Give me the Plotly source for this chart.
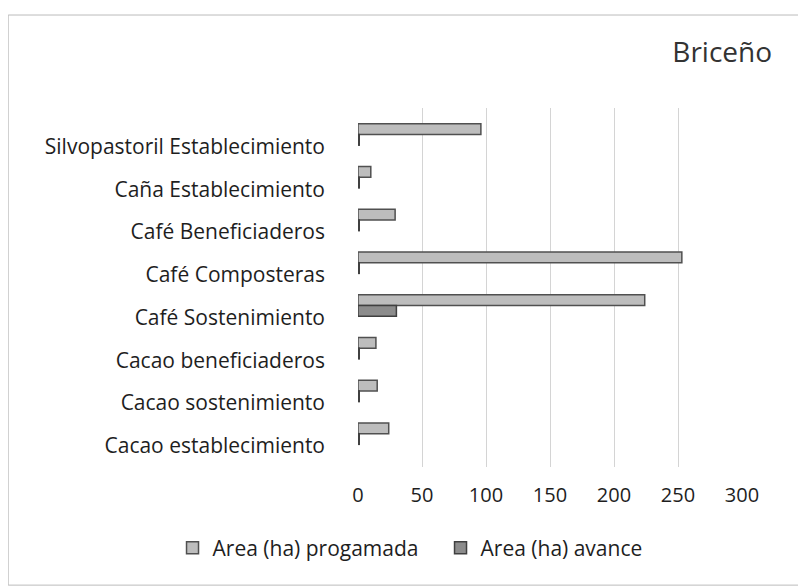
import plotly.graph_objects as go

categories = [
    'Silvopastoril Establecimiento',
    'Caña Establecimiento',
    'Café Beneficiaderos',
    'Café Composteras',
    'Café Sostenimiento',
    'Cacao beneficiaderos',
    'Cacao sostenimiento',
    'Cacao establecimiento',
]
area_programada = [96, 10, 29, 253, 224, 14, 15, 24]
area_avance = [1, 1, 1, 1, 30, 1, 1, 1]
x_ticks = [0, 50, 100, 150, 200, 250, 300]

FONT = 'Open Sans'

fig = go.Figure()

# bars sit a little above their labels, like the 3-D Excel original
fig.add_trace(go.Bar(
    y=categories,
    x=area_programada,
    name='Area (ha) progamada',
    orientation='h',
    width=0.25,
    offset=-0.53,
    marker=dict(color='#bdbdbd', line=dict(color='#505050', width=1.5)),
))
fig.add_trace(go.Bar(
    y=categories,
    x=area_avance,
    name='Area (ha) avance',
    orientation='h',
    width=0.25,
    offset=-0.28,
    marker=dict(color='#8c8c8c', line=dict(color='#404040', width=1.5)),
))

fig.update_layout(
    width=806,
    height=588,
    margin=dict(l=350, r=72, t=100, b=129),
    paper_bgcolor='white',
    plot_bgcolor='white',
    font=dict(family=FONT, color='#1e1e1e'),
    title=dict(
        text='Briceño',
        x=0.948, xanchor='right',
        y=0.925, yanchor='middle',
        font=dict(family=FONT, size=28, color='#333333'),
    ),
    legend=dict(
        orientation='h',
        x=-0.483, xanchor='left',
        y=-0.2256, yanchor='middle',
        font=dict(family=FONT, size=21, color='#1e1e1e'),
        itemwidth=30,
        entrywidth=223,
        entrywidthmode='pixels',
        traceorder='normal',
    ),
    xaxis=dict(
        range=[0, 300],
        tickvals=x_ticks,
        showgrid=True,
        gridcolor='#d4d4d4',
        gridwidth=1,
        zeroline=False,
        showline=False,
        tickfont=dict(family=FONT, size=20, color='#1e1e1e'),
        ticklabelstandoff=14,
    ),
    yaxis=dict(
        range=[7.5, -0.9],
        showgrid=False,
        showline=False,
        tickfont=dict(family=FONT, size=21, color='#1e1e1e'),
        ticklabelstandoff=32,
    ),
    shapes=[dict(
        type='rect', xref='paper', yref='paper',
        x0=-0.911, x1=1.151, y0=-0.329, y1=1.259,
        line=dict(color='#bbbbbb', width=1),
    )],
)

fig.write_html('out.html')
